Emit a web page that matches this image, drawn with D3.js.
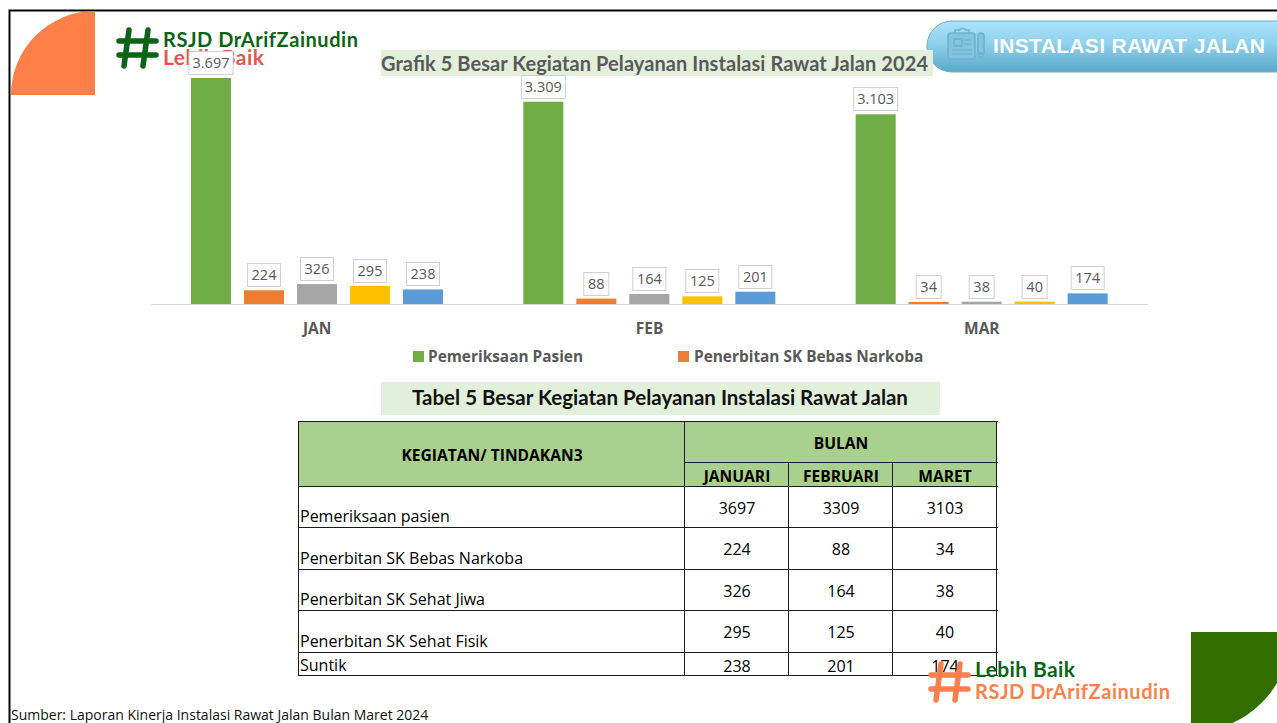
<!DOCTYPE html>
<html><head><meta charset="utf-8">
<script src="https://cdn.jsdelivr.net/npm/d3@7"></script>
<style>html,body{margin:0;padding:0;background:#fff;overflow:hidden}svg{display:block}</style>
</head><body><svg id="c" width="1277" height="723"></svg>
<script>
const months = ["JAN","FEB","MAR"];
const monthsFull = ["JANUARI","FEBRUARI","MARET"];
const seriesNames = ["Pemeriksaan Pasien","Penerbitan SK Bebas Narkoba","Penerbitan SK Sehat Jiwa","Penerbitan SK Sehat Fisik","Suntik"];
const rowNames = ["Pemeriksaan pasien","Penerbitan SK Bebas Narkoba","Penerbitan SK Sehat Jiwa","Penerbitan SK Sehat Fisik","Suntik"];
const pemeriksaan = [3697,3309,3103];
const bebasNarkoba = [224,88,34];
const sehatJiwa = [326,164,38];
const sehatFisik = [295,125,40];
const suntik = [238,201,174];
const seriesValues = [pemeriksaan,bebasNarkoba,sehatJiwa,sehatFisik,suntik];
const colors = ["#70ad47","#ed7d31","#a5a5a5","#ffc000","#5b9bd5"];
const legendShown = [0,1];

const svg = d3.select("#c");
const BODY = "'Open Sans',sans-serif", HEAD = "Lato,sans-serif";
const defs = svg.append("defs");
const g = defs.append("linearGradient").attr("id","bd").attr("x1",0).attr("x2",0).attr("y1",0).attr("y2",1);
g.append("stop").attr("offset",0).attr("stop-color","#a9e4fd");
g.append("stop").attr("offset",.45).attr("stop-color","#8fd0ec");
g.append("stop").attr("offset",1).attr("stop-color","#5ba9c9");

// slide frame
svg.append("path").attr("d","M9.5 723V10.5H1277").attr("fill","none").attr("stroke","#000").attr("stroke-width",2);

// corner shapes
svg.append("path").attr("d","M11 95V95A84 84 0 0 1 95 11V95Z").attr("fill","#ff7f4a");
svg.append("path").attr("d","M1191 632H1291A100 100 0 0 1 1191 732Z").attr("fill","#336f00");

function hash(x,y,s,col){
  const h = svg.append("g").attr("transform",`translate(${x},${y}) scale(${s})`).attr("stroke",col).attr("stroke-width",5.5).attr("stroke-linecap","round").attr("fill","none");
  [[13,3,8,39],[32,3,27,39],[3,14,40,14],[3,28,40,28]].forEach(l=>h.append("line").attr("x1",l[0]).attr("y1",l[1]).attr("x2",l[2]).attr("y2",l[3]));
}
// top logo
hash(116,27,1,"#0b6414");
svg.append("text").attr("x",163).attr("y",47).attr("font-family",HEAD).attr("font-weight",700).attr("font-size",20).attr("fill","#0b6414").attr("textLength",195).text("RSJD DrArifZainudin");
svg.append("text").attr("x",163).attr("y",65).attr("font-family",HEAD).attr("font-weight",700).attr("font-size",21).attr("fill","#e5574b").attr("textLength",101).text("Lebih Baik");

// badge
svg.append("rect").attr("x",927).attr("y",21).attr("width",380).attr("height",51).attr("rx",25).attr("fill","url(#bd)").attr("stroke","#74aac4");
const ic = svg.append("g").attr("fill","none").attr("stroke","#6fb2d0").attr("stroke-width",1.6);
ic.append("rect").attr("x",948).attr("y",33).attr("width",27).attr("height",26).attr("rx",3).attr("fill","#84c4e0");
ic.append("path").attr("d","M955 33v-3h4a4 3 0 0 1 7 0h3v3");
ic.append("rect").attr("x",954).attr("y",39).attr("width",8).attr("height",7);
ic.append("path").attr("d","M964 40h7M964 44h7M952 50h20M952 54h20");
ic.append("path").attr("d","M978 36a3 3 0 0 1 6 0v17h-6zM979 54h4v3h-4z").attr("fill","#84c4e0");
svg.append("text").attr("x",993).attr("y",53).attr("font-family","'Liberation Sans',Arial,sans-serif").attr("font-weight",700).attr("font-size",21).attr("fill","#fbfeff").attr("textLength",272).text("INSTALASI RAWAT JALAN");

// chart title
svg.append("rect").attr("x",381).attr("y",50).attr("width",552).attr("height",26).attr("fill","#e2efda");
svg.append("text").attr("x",381).attr("y",71).attr("font-family",HEAD).attr("font-weight",700).attr("font-size",20).attr("fill","#595959").attr("textLength",547).text("Grafik 5 Besar Kegiatan Pelayanan Instalasi Rawat Jalan 2024");

// bars
const x0 = d3.scaleBand().domain(months).range([151,1148]);
const x1 = d3.scaleBand().domain(d3.range(seriesValues.length)).range([40,292]).paddingInner(.245);
const y = d3.scaleLinear().domain([0,3697]).range([304,78]);

const groups = svg.append("g").selectAll("g").data(months).join("g").attr("transform",d=>`translate(${x0(d)},0)`);
groups.each(function(m,mi){
  const gr = d3.select(this);
  const vals = seriesValues.map((s,si)=>({si,v:s[mi]}));
  gr.selectAll("rect.bar").data(vals).join("rect").attr("class","bar")
    .attr("x",d=>x1(d.si)).attr("y",d=>y(d.v)).attr("width",x1.bandwidth()).attr("height",d=>y(0)-y(d.v)).attr("fill",d=>colors[d.si]);
});
svg.append("line").attr("x1",151).attr("x2",1148).attr("y1",304.5).attr("y2",304.5).attr("stroke","#d9d9d9");
const fmt = v => d3.format(",")(v).replace(/,/g,".");
groups.each(function(m,mi){
  const gr = d3.select(this);
  seriesValues.forEach((s,si)=>{
    const v=s[mi], t=fmt(v), w = t.length>=5?44:t.length===3?33:25;
    const cx=x1(si)+x1.bandwidth()/2, top=y(v);
    gr.append("rect").attr("x",cx-w/2).attr("y",Math.round(top-27)+.5).attr("width",w).attr("height",23).attr("fill","#fff").attr("stroke","#d0d0d0");
    gr.append("text").attr("x",cx).attr("y",top-10).attr("text-anchor","middle").attr("font-family",BODY).attr("font-size",14.5).attr("fill","#595959").text(t);
  });
  gr.append("text").attr("x",x0.bandwidth()/2).attr("y",334).attr("text-anchor","middle").attr("font-family",BODY).attr("font-weight",700).attr("font-size",15.5).attr("fill","#595959").text(m);
});

// legend
const legendX = d3.scaleOrdinal().domain(legendShown).range([413,678]);
legendShown.forEach(i=>{
  svg.append("rect").attr("x",legendX(i)).attr("y",351).attr("width",11).attr("height",11).attr("fill",colors[i]);
  svg.append("text").attr("x",legendX(i)+15+(i?1:0)).attr("y",361.5).attr("font-family",BODY).attr("font-weight",700).attr("font-size",15.4).attr("fill","#595959").text(seriesNames[i]);
});

// table title
svg.append("rect").attr("x",381).attr("y",382).attr("width",559).attr("height",33).attr("fill","#e2efda");
svg.append("text").attr("x",660).attr("y",405).attr("text-anchor","middle").attr("font-family",HEAD).attr("font-weight",700).attr("font-size",20.5).attr("fill","#111").text("Tabel 5 Besar Kegiatan Pelayanan Instalasi Rawat Jalan");

// table
const colX=[299,685,789,893,997], rowY=[487,528,570,611,653,676];
svg.append("rect").attr("x",299).attr("y",422).attr("width",698).attr("height",65).attr("fill","#a9d08e");
const tb = svg.append("g").attr("stroke","#1a1a1a").attr("stroke-width",1);
const hl=(a,b,yy)=>tb.append("line").attr("x1",a).attr("x2",b).attr("y1",yy-.5).attr("y2",yy-.5);
const vl=(xx,a,b)=>tb.append("line").attr("x1",xx-.5).attr("x2",xx-.5).attr("y1",a).attr("y2",b);
hl(298,998,422); hl(684,998,463); rowY.forEach(v=>hl(298,998,v));
vl(299,421,676); vl(685,421,676); vl(789,463,676); vl(893,463,676); vl(997,421,676);
const txt=(x,yy,t,o={})=>svg.append("text").attr("x",x).attr("y",yy).attr("text-anchor",o.a||"middle").attr("font-family",BODY).attr("font-weight",o.w||400).attr("font-size",o.s||16).attr("fill","#000").text(t);
txt(492,461,"KEGIATAN/ TINDAKAN3",{w:700,s:15.6});
txt(841,449,"BULAN",{w:700,s:15.6});
monthsFull.forEach((m,i)=>txt((colX[i+1]+colX[i+2])/2,482,m,{w:700,s:15.6}));
rowNames.forEach((r,i)=>{
  const last=i===rowNames.length-1;
  txt(300,last?671:rowY[i+1]-6,r,{a:"start"});
  seriesValues[i].forEach((v,j)=>txt((colX[j+1]+colX[j+2])/2,last?672:(rowY[i]+rowY[i+1])/2+6,v));
});

// bottom logo
hash(928,661,1,"#ff7f4a");
svg.append("text").attr("x",975).attr("y",677).attr("font-family",HEAD).attr("font-weight",700).attr("font-size",21).attr("fill","#0b6414").attr("textLength",100).text("Lebih Baik");
svg.append("text").attr("x",975).attr("y",699).attr("font-family",HEAD).attr("font-weight",700).attr("font-size",20).attr("fill","#ff7f4a").attr("textLength",195).text("RSJD DrArifZainudin");

// source
svg.append("text").attr("x",11).attr("y",719.5).attr("font-family",BODY).attr("font-size",14).attr("fill","#111").text("Sumber: Laporan Kinerja Instalasi Rawat Jalan Bulan Maret 2024");
</script></body></html>
